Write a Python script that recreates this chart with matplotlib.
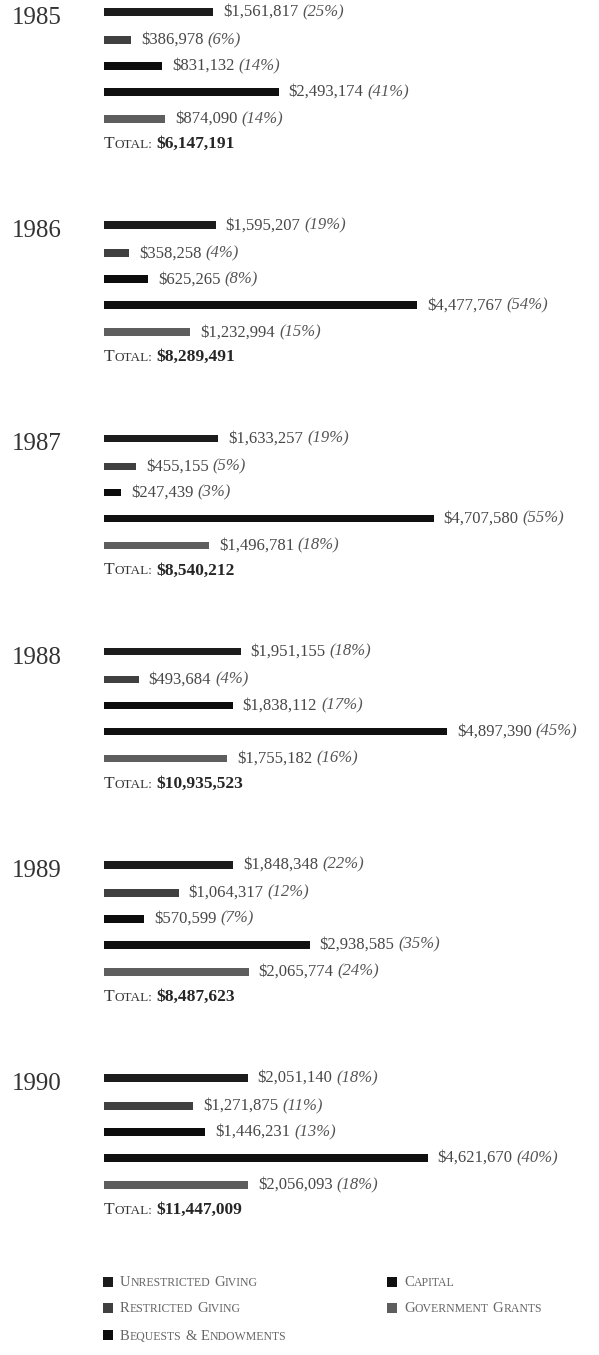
import numpy as np
import matplotlib.pyplot as plt

plt.rcParams['font.family'] = ['Liberation Serif', 'DejaVu Serif']

years = ['1985', '1986', '1987', '1988', '1989', '1990']
categories = ['Unrestricted Giving', 'Restricted Giving', 'Bequests & Endowments',
              'Capital', 'Government Grants']
colors = ['#1c1c1c', '#404040', '#0c0c0c', '#101010', '#5e5e5e']

unrestricted = [1561817, 1595207, 1633257, 1951155, 1848348, 2051140]
restricted = [386978, 358258, 455155, 493684, 1064317, 1271875]
bequests = [831132, 625265, 247439, 1838112, 570599, 1446231]
capital = [2493174, 4477767, 4707580, 4897390, 2938585, 4621670]
grants = [874090, 1232994, 1496781, 1755182, 2065774, 2056093]

pct_unrestricted = [25, 19, 19, 18, 22, 18]
pct_restricted = [6, 4, 5, 4, 12, 11]
pct_bequests = [14, 8, 3, 17, 7, 13]
pct_capital = [41, 54, 55, 45, 35, 40]
pct_grants = [14, 15, 18, 16, 24, 18]

totals = [6147191, 8289491, 8540212, 10935523, 8487623, 11447009]

series = [unrestricted, restricted, bequests, capital, grants]
pcts = [pct_unrestricted, pct_restricted, pct_bequests, pct_capital, pct_grants]

W, H = 599, 1355
fig = plt.figure(figsize=(W / 100, H / 100), dpi=100)
ax = fig.add_axes([0, 0, 1, 1])
k = 7.0e-5   # pixels per dollar
x0 = 104     # pixel where bars start
ax.set_xlim(-x0 / k, (W - x0) / k)
ax.set_ylim(H, 0)
ax.axis('off')


def px2x(px):
    return (px - x0) / k


def chain(prev, y, text, gap=0, va='baseline', **kw):
    # place a text right after the previous one, same y
    return ax.annotate(text, xy=(1, y), xycoords=(prev, 'data'),
                       xytext=(gap, 0), textcoords='offset pixels',
                       va=va, ha='left', **kw)


def smallcaps(x, y, words, big, small, color, gap=4):
    # y is the baseline
    prev = None
    for w in words:
        first, rest = w[0], w[1:]
        if prev is None:
            prev = ax.text(x, y, first, fontsize=big, color=color, va='baseline', ha='left')
        else:
            prev = chain(prev, y, first, gap=gap, fontsize=big, color=color)
        if rest:
            prev = chain(prev, y, rest, fontsize=small, color=color)
    return prev


offsets = [0, 28, 54, 80, 107]
for i, yr in enumerate(years):
    top = 12 + 213.2 * i
    ax.text(px2x(12), top + 6, yr, fontsize=18, color='#333333', va='center', ha='left')
    for j in range(5):
        y = top + offsets[j]
        v = series[j][i]
        ax.barh(y, v, height=7.5, left=0, color=colors[j], edgecolor='none')
        t = ax.annotate('${:,}'.format(v), xy=(v, y), xytext=(10, 0),
                        textcoords='offset pixels', va='center', ha='left',
                        fontsize=12, color='#474747')
        chain(t, y, '({}%)'.format(pcts[j][i]), gap=4, va='center', fontsize=12,
              color='#555555', style='italic')
    yt = top + 136
    last = smallcaps(0, yt, ['TOTAL:'], 12.5, 9.5, '#333333')
    chain(last, yt, '${:,}'.format(totals[i]), gap=4, fontsize=12.5,
          color='#262626', weight='bold')

# legend
leg_rows = [1282, 1308, 1335]
leg_pos = [(103, 0), (103, 1), (103, 2), (387, 0), (387, 1)]
for j, name in enumerate(categories):
    px, r = leg_pos[j]
    y = leg_rows[r]
    ax.scatter([px2x(px + 5)], [y], marker='s', s=50, color=colors[j], edgecolors='none')
    smallcaps(px2x(px + 17), y + 4.5, name.upper().split(' '), 10.5, 8.5, '#666666')

fig.savefig('out.png', dpi=100)
